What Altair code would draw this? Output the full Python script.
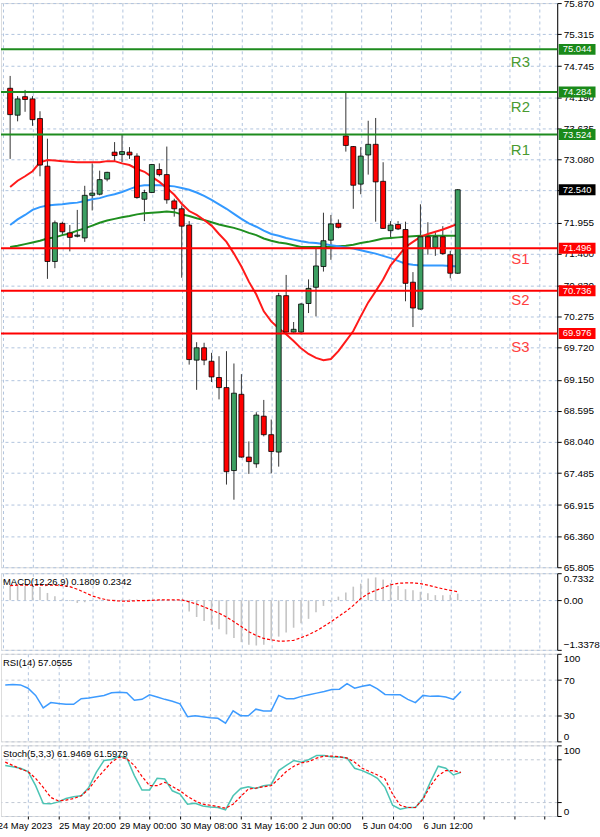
import altair as alt
import pandas as pd

# ---------------- candle data (4H bars) ----------------
opens = [74.35, 73.87, 74.20, 74.16, 73.81, 72.96, 71.26, 71.94, 71.77, 71.71,
         71.68, 72.44, 72.46, 72.73, 73.21, 73.17, 73.21, 73.14, 72.37, 72.49,
         72.90, 72.81, 72.34, 72.20, 71.91, 69.50, 69.72, 69.48, 69.19, 69.01,
         67.53, 68.89, 67.77, 67.65, 68.50, 68.17, 67.86, 70.65, 70.00, 70.00,
         70.51, 70.80, 71.17, 71.64, 71.94, 73.50, 73.31, 72.64, 73.16, 73.35,
         72.69, 71.81, 71.92, 71.83, 70.89, 70.41, 71.70, 71.51, 71.70, 71.38, 71.05]
highs = [74.57, 74.21, 74.32, 74.21, 73.94, 73.45, 71.99, 71.97, 71.91, 72.18,
         72.61, 73.01, 72.88, 72.86, 73.39, 73.52, 73.30, 73.19, 72.54, 73.00,
         73.01, 73.31, 72.38, 72.26, 71.98, 69.82, 69.81, 69.63, 69.57, 69.66,
         69.44, 69.25, 68.05, 68.57, 68.79, 68.44, 70.70, 71.02, 70.18, 70.52,
         70.94, 71.52, 72.13, 72.09, 72.01, 74.29, 73.32, 73.30, 73.77, 73.82,
         73.03, 71.98, 71.98, 71.97, 71.07, 72.28, 71.96, 71.78, 71.89, 71.45, 72.55]
lows = [73.09, 73.76, 73.93, 73.68, 72.78, 70.95, 71.14, 71.72, 71.44, 71.69,
        71.61, 72.17, 72.44, 72.69, 73.04, 73.03, 73.09, 72.38, 71.98, 72.48,
        72.78, 72.29, 72.06, 70.97, 69.42, 68.97, 69.41, 69.11, 68.80, 67.28,
        67.01, 67.76, 67.47, 67.58, 68.14, 67.48, 67.60, 69.99, 69.99, 69.96,
        70.34, 70.28, 71.08, 71.29, 71.85, 73.22, 72.20, 72.46, 72.81, 71.97,
        71.84, 71.67, 71.82, 70.55, 70.09, 70.40, 71.38, 71.36, 71.38, 70.96, 71.04]
closes = [73.88, 74.16, 74.15, 73.79, 72.98, 71.26, 71.95, 71.79, 71.69, 71.73,
          72.44, 72.48, 72.72, 72.85, 73.15, 73.22, 73.16, 72.40, 72.49, 72.99,
          72.81, 72.36, 72.20, 71.89, 69.51, 69.72, 69.50, 69.20, 69.01, 67.51,
          68.91, 67.77, 67.69, 68.52, 68.17, 67.87, 70.65, 70.00, 70.05, 70.50,
          70.78, 71.18, 71.63, 71.93, 71.87, 73.33, 72.62, 73.14, 73.35, 72.68,
          71.85, 71.91, 71.84, 70.87, 70.43, 71.70, 71.49, 71.70, 71.40, 71.05, 72.54]

# moving averages
ma_fast = [72.59, 72.70, 72.78, 72.87, 73.03, 73.07, 73.06, 73.05, 73.04, 73.03,
           73.03, 73.03, 73.03, 73.05, 73.05, 73.01, 72.98, 72.91, 72.86, 72.77,
           72.68, 72.57, 72.45, 72.29, 72.16, 72.09, 72.00, 71.90, 71.75, 71.61,
           71.40, 71.17, 70.90, 70.67, 70.37, 70.19, 70.07, 69.96, 69.84, 69.71,
           69.61, 69.54, 69.50, 69.52, 69.66, 69.84, 70.02, 70.28, 70.53, 70.73,
           70.94, 71.19, 71.35, 71.52, 71.61, 71.70, 71.75, 71.79, 71.83, 71.88, 71.93]
ma_mid = [71.91, 72.01, 72.09, 72.18, 72.23, 72.26, 72.27, 72.28, 72.30, 72.31,
          72.34, 72.37, 72.39, 72.43, 72.46, 72.50, 72.55, 72.60, 72.62, 72.62,
          72.62, 72.61, 72.60, 72.57, 72.54, 72.49, 72.43, 72.36, 72.28, 72.20,
          72.11, 72.02, 71.94, 71.88, 71.81, 71.75, 71.72, 71.68, 71.65, 71.62,
          71.60, 71.59, 71.57, 71.55, 71.53, 71.51, 71.49, 71.46, 71.43, 71.40,
          71.36, 71.32, 71.27, 71.22, 71.20, 71.19, 71.19, 71.19, 71.19, 71.18, 71.17]
ma_slow = [71.52, 71.54, 71.57, 71.60, 71.63, 71.67, 71.69, 71.73, 71.76, 71.81,
           71.85, 71.90, 71.95, 71.99, 72.02, 72.05, 72.07, 72.10, 72.12, 72.13,
           72.14, 72.15, 72.14, 72.10, 72.07, 72.03, 72.00, 71.96, 71.92, 71.89,
           71.86, 71.82, 71.77, 71.73, 71.67, 71.63, 71.60, 71.58, 71.55, 71.52,
           71.52, 71.52, 71.52, 71.52, 71.53, 71.54, 71.56, 71.59, 71.61, 71.64,
           71.67, 71.68, 71.69, 71.70, 71.71, 71.72, 71.72, 71.72, 71.72, 71.72, 71.72]

# MACD(12,26,9)
macd_main = [0.40, 0.40, 0.39, 0.38, 0.36, 0.20, 0.11, 0.03, -0.02, -0.07,
             -0.05, -0.02, 0.02, 0.03, 0.02, 0.02, 0.03, 0.02, 0.01, 0.01,
             0.02, 0.01, 0.00, -0.03, -0.30, -0.45, -0.56, -0.66, -0.78, -0.92,
             -1.02, -1.13, -1.20, -1.22, -1.20, -1.08, -0.98, -0.87, -0.74, -0.62,
             -0.50, -0.32, -0.15, -0.05, 0.10, 0.21, 0.37, 0.45, 0.59, 0.62,
             0.56, 0.47, 0.39, 0.30, 0.27, 0.23, 0.19, 0.14, 0.14, 0.15, 0.1809]
macd_signal = [0.40, 0.41, 0.41, 0.41, 0.41, 0.41, 0.41, 0.40, 0.37, 0.30,
               0.21, 0.12, 0.06, 0.01, -0.01, -0.02, -0.02, -0.01, -0.01, 0.00,
               0.01, 0.01, 0.01, 0.01, -0.04, -0.10, -0.18, -0.26, -0.35, -0.45,
               -0.58, -0.71, -0.85, -0.95, -1.03, -1.07, -1.10, -1.10, -1.08, -1.01,
               -0.93, -0.83, -0.71, -0.58, -0.44, -0.30, -0.14, 0.05, 0.18, 0.27,
               0.34, 0.42, 0.46, 0.47, 0.47, 0.45, 0.41, 0.36, 0.31, 0.27, 0.2342]
macd_range = [-1.3378, 0.7332]

# RSI(14)
rsi = [64.5, 65.0, 64.5, 60.7, 52.5, 38.3, 44.3, 43.2, 42.4, 42.4,
       48.8, 49.5, 51.0, 52.5, 55.5, 56.2, 55.5, 46.9, 48.0, 53.2,
       50.6, 48.0, 45.8, 42.8, 28.2, 29.3, 28.2, 27.1, 26.3, 20.7,
       34.9, 29.3, 29.3, 36.8, 34.6, 34.6, 52.5, 48.8, 48.8, 51.4,
       53.2, 55.1, 57.0, 59.2, 59.6, 65.9, 60.7, 63.0, 64.5, 60.0,
       53.6, 53.2, 53.2, 48.0, 44.3, 52.5, 51.4, 51.8, 50.6, 48.0, 57.0555]

# Stochastic(5,3,3)
stoch_k = [71.5, 69.6, 67.6, 62.9, 42.9, 17.7, 17.2, 20.0, 24.8, 27.1,
           28.6, 40.5, 62.0, 78.6, 80.0, 84.8, 82.0, 57.2, 36.7, 36.7,
           53.3, 52.4, 35.7, 31.0, 16.7, 18.1, 14.3, 12.9, 12.0, 8.6,
           28.6, 39.0, 41.4, 39.0, 42.9, 44.3, 64.3, 71.5, 78.6, 76.2,
           80.0, 85.7, 85.7, 83.4, 83.4, 82.0, 67.6, 64.3, 59.5, 53.3,
           40.5, 15.2, 9.6, 12.0, 12.0, 24.8, 48.6, 70.5, 67.6, 58.1, 61.9469]
stoch_d = [76.2, 71.5, 66.7, 62.9, 53.3, 40.5, 26.2, 21.4, 22.4, 24.8,
           28.6, 38.1, 52.4, 64.3, 76.2, 83.4, 81.0, 71.5, 56.2, 42.9,
           42.9, 47.7, 41.9, 35.7, 27.6, 21.4, 16.7, 15.2, 13.3, 11.0,
           16.7, 27.6, 38.1, 39.5, 41.4, 42.9, 52.4, 62.9, 70.5, 75.2,
           77.1, 82.0, 84.8, 84.8, 83.8, 82.0, 76.2, 67.6, 62.9, 58.1,
           52.4, 31.0, 15.2, 12.0, 12.0, 23.9, 42.9, 57.2, 64.3, 64.3, 61.5979]

# pivot levels
level_names = ["R3", "R2", "R1", "S1", "S2", "S3"]
level_values = [75.044, 74.284, 73.524, 71.496, 70.736, 69.976]
level_label_prices = [74.825, 74.018, 73.254, 71.302, 70.575, 69.741]
level_kinds = ["R", "R", "R", "S", "S", "S"]
current_price = 72.540

# axis ticks
price_ticks = [75.870, 75.315, 74.745, 74.190, 73.635, 73.080, 72.540, 71.955, 71.400,
               70.830, 70.275, 69.720, 69.150, 68.595, 68.040, 67.485, 66.915, 66.360, 65.805]
price_range = [65.805, 75.870]
time_label_idx = [-1, 7, 15, 23, 31, 39, 47, 55]
time_labels = ["24 May 2023", "25 May 20:00", "29 May 00:00", "30 May 08:00",
               "31 May 16:00", "2 Jun 00:00", "5 Jun 04:00", "6 Jun 12:00"]
grid_idx = list(range(-1, 73, 4))

# ---------------- styling ----------------
W = 559
H_MAIN, H_MACD, H_RSI, H_STO = 567, 77, 88, 71
GRID = "#b0c4de"
UP, DOWN = "#3c9f62", "#ff0000"
FONT = "Liberation Sans"

df = pd.DataFrame({
    "i": list(range(len(opens))), "open": opens, "high": highs, "low": lows, "close": closes,
    "ma_fast": ma_fast, "ma_mid": ma_mid, "ma_slow": ma_slow,
    "macd": macd_main, "signal": macd_signal, "rsi": rsi, "k": stoch_k, "d": stoch_d,
})
levels = pd.DataFrame({"name": level_names, "value": level_values,
                       "label_price": level_label_prices, "kind": level_kinds})
boxes = pd.DataFrame({"value": level_values + [current_price], "kind": level_kinds + ["C"]})
boxes["txt"] = [f"{v:.3f}" for v in boxes["value"]]

xscale = alt.Scale(domain=[-0.56, 72.67], nice=False, zero=False)
x_expr = " : ".join(f"datum.value == {i} ? '{t}'" for i, t in zip(time_label_idx, time_labels)) + " : ''"
axis_x_plain = alt.Axis(values=grid_idx, grid=True, gridColor=GRID, gridDash=[3, 3], labels=False,
                        ticks=False, domain=False, title=None)
axis_x_bottom = alt.Axis(values=grid_idx, grid=True, gridColor=GRID, gridDash=[3, 3], labels=True,
                         labelExpr=x_expr, labelAlign="left", labelFontSize=9.5, labelPadding=2,
                         labelColor="#000", labelOverlap=False, labelFlush=False,
                         ticks=True, tickSize=3, tickColor="#000", domain=False, title=None)


def X(bottom=False):
    return alt.X("i:Q", scale=xscale, axis=axis_x_bottom if bottom else axis_x_plain)


# the current-price label sits exactly on its tick, so that tick label is left to the black box
main_scale = alt.Scale(domain=price_range, nice=False, zero=False)
main_axis = alt.Axis(orient="right", values=price_ticks,
                     labelExpr=f"abs(datum.value - {current_price}) < 0.001 ? '' : format(datum.value, '.3f')",
                     grid=True, gridColor=GRID,
                     gridDash=[3, 3], tickSize=4, tickColor="#000", domainColor="#000",
                     labelFontSize=10, labelColor="#000", labelPadding=2, labelOverlap=False,
                     title=None)


def YM(field):
    return alt.Y(field, type="quantitative", scale=main_scale, axis=main_axis)


base = alt.Chart(df)
wicks = base.mark_rule(color="#333333", strokeWidth=1).encode(x=X(), y=YM("low"), y2="high")
bodies = base.mark_bar(size=5, stroke="#000", strokeWidth=0.8).encode(
    x=X(), y=YM("open"), y2="close",
    color=alt.condition("datum.close >= datum.open", alt.value(UP), alt.value(DOWN)))
ma_g = base.mark_line(color="#1f8f1f", strokeWidth=2).encode(x=X(), y=YM("ma_slow"))
ma_b = base.mark_line(color="#3399ff", strokeWidth=2).encode(x=X(), y=YM("ma_mid"))
ma_r = base.mark_line(color="#ff1a1a", strokeWidth=2).encode(x=X(), y=YM("ma_fast"))

lv = alt.Chart(levels)
level_rules = lv.mark_rule(strokeWidth=2).encode(
    y=YM("value"),
    color=alt.condition("datum.kind == 'R'", alt.value("#1e8b1e"), alt.value("#ff0000")))
level_text = lv.mark_text(fontSize=15, align="center", baseline="middle", font=FONT).encode(
    x=alt.value(522), y=YM("label_price"), text="name:N",
    color=alt.condition("datum.kind == 'R'", alt.value("#4a9a30"), alt.value("#ff4040")))

bx = alt.Chart(boxes)
box_rect = bx.mark_tick(orient="horizontal", size=37, thickness=11, opacity=1).encode(
    x=alt.value(579), y=YM("value"),
    color=alt.Color("kind:N", scale=alt.Scale(domain=["R", "S", "C"],
                                              range=["#1a8a1a", "#ff0000", "#000000"]), legend=None))
box_text = bx.mark_text(color="white", fontSize=9.5, align="center", baseline="middle", font=FONT).encode(
    x=alt.value(579), y=YM("value"), text="txt:N")

main = alt.layer(wicks, ma_g, ma_b, ma_r, bodies, level_rules, level_text, box_rect, box_text).properties(
    width=W, height=H_MAIN)

# ---------------- MACD ----------------
macd_scale = alt.Scale(domain=macd_range, nice=False, zero=False)
macd_axis = alt.Axis(orient="right", values=[macd_range[1], 0, macd_range[0]],
                     labelExpr="datum.value == 0 ? '0.00' : format(datum.value, '.4f')",
                     grid=True, gridColor=GRID, gridDash=[3, 3], tickSize=4, tickColor="#000",
                     domainColor="#000", labelFontSize=10, labelColor="#000", labelPadding=2,
                     labelFlush=True, title=None)
macd_hist = base.mark_bar(size=1.6, color="#c4c4c4").encode(
    x=X(), y=alt.Y("macd:Q", scale=macd_scale, axis=macd_axis), y2=alt.datum(0))
macd_sig = base.mark_line(color="#ff0000", strokeDash=[3, 2], strokeWidth=1.2).encode(
    x=X(), y=alt.Y("signal:Q", scale=macd_scale, axis=macd_axis))
macd_label = alt.Chart(pd.DataFrame({"t": [f"MACD(12,26,9) {macd_main[-1]:.4f} {macd_signal[-1]:.4f}"]})).mark_text(
    align="left", baseline="middle", fontSize=9.5, color="#000", font=FONT).encode(
    x=alt.value(2), y=alt.value(9), text="t:N")
macd = alt.layer(macd_hist, macd_sig, macd_label).properties(width=W, height=H_MACD)

# ---------------- RSI ----------------
pct_scale = alt.Scale(domain=[0, 100], nice=False, zero=False)
rsi_axis = alt.Axis(orient="right", values=[100, 70, 30, 0], grid=True, gridColor="#c0c8d4",
                    gridDash=[3, 3], tickSize=4, tickColor="#000", domainColor="#000",
                    labelFontSize=10, labelColor="#000", labelPadding=2, labelFlush=True, title=None)
rsi_line = base.mark_line(color="#3d9bff", strokeWidth=1.5).encode(
    x=X(), y=alt.Y("rsi:Q", scale=pct_scale, axis=rsi_axis))
rsi_label = alt.Chart(pd.DataFrame({"t": [f"RSI(14) {rsi[-1]:.4f}"]})).mark_text(
    align="left", baseline="middle", fontSize=9.5, color="#000", font=FONT).encode(
    x=alt.value(2), y=alt.value(9), text="t:N")
rsi_chart = alt.layer(rsi_line, rsi_label).properties(width=W, height=H_RSI)

# ---------------- Stochastic ----------------
sto_axis = alt.Axis(orient="right", values=[100, 80, 20, 0], grid=True, gridColor="#c0c8d4",
                    gridDash=[3, 3], tickSize=4, tickColor="#000", domainColor="#000",
                    labelFontSize=10, labelColor="#000", labelPadding=2, labelFlush=True, title=None)
k_line = base.mark_line(color="#4cc4b4", strokeWidth=1.5).encode(
    x=X(True), y=alt.Y("k:Q", scale=pct_scale, axis=sto_axis))
d_line = base.mark_line(color="#ff0000", strokeDash=[3, 2], strokeWidth=1.2).encode(
    x=X(True), y=alt.Y("d:Q", scale=pct_scale, axis=sto_axis))
sto_label = alt.Chart(pd.DataFrame({"t": [f"Stoch(5,3,3) {stoch_k[-1]:.4f} {stoch_d[-1]:.4f}"]})).mark_text(
    align="left", baseline="middle", fontSize=9.5, color="#000", font=FONT).encode(
    x=alt.value(2), y=alt.value(9), text="t:N")
first_label = alt.Chart(pd.DataFrame({"i": [time_label_idx[0]], "t": [time_labels[0]]})).mark_text(
    align="left", baseline="top", fontSize=9.5, color="#000", font=FONT).encode(
    x=X(True), y=alt.value(H_STO + 5), text="t:N")
sto_chart = alt.layer(k_line, d_line, sto_label, first_label).properties(width=W, height=H_STO)

lower = alt.vconcat(macd, rsi_chart, sto_chart, spacing=4, bounds="flush")
chart = alt.vconcat(main, lower, spacing=6, bounds="flush").properties(
    padding={"left": -3, "top": -5, "right": 0, "bottom": 0}, background="white"
).configure_view(stroke="#000000", strokeWidth=1).configure(font=FONT)

chart.save("out.html", embed_options={"renderer": "svg", "actions": False})
